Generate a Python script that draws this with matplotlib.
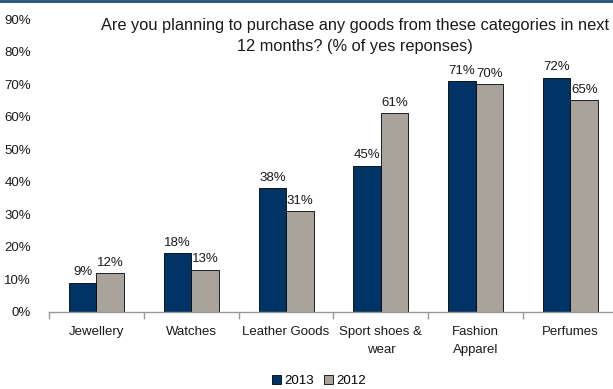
import numpy as np
import matplotlib.pyplot as plt
from matplotlib.lines import Line2D

plt.rcParams['font.family'] = ['Liberation Sans', 'DejaVu Sans']

categories = ['Jewellery', 'Watches', 'Leather Goods', 'Sport shoes &\nwear',
              'Fashion\nApparel', 'Perfumes']
yes_2013 = [9, 18, 38, 45, 71, 72]
yes_2012 = [12, 13, 31, 61, 70, 65]
yticks = [0, 10, 20, 30, 40, 50, 60, 70, 80, 90]

navy = '#003466'
grey = '#aaa39c'
txt = '#1a1a1a'

fig = plt.figure(figsize=(6.13, 3.89), dpi=100)
ax = fig.add_axes([0.08, 0.198, 0.928, 0.753])

x = np.arange(len(categories))
w = 0.29
b1 = ax.bar(x - w / 2, yes_2013, w, color=navy, edgecolor='black', linewidth=0.6, label='2013')
b2 = ax.bar(x + w / 2, yes_2012, w, color=grey, edgecolor='black', linewidth=0.6, label='2012')

for bars, vals in ((b1, yes_2013), (b2, yes_2012)):
    for r, v in zip(bars, vals):
        ax.text(r.get_x() + r.get_width() / 2, v + 1.3, f'{v}%', ha='center', va='bottom',
                fontsize=9.5, color=txt)

ax.set_xlim(-0.5, len(categories) - 0.5)
ax.set_ylim(0, 90)
ax.set_yticks(yticks)
ax.set_yticklabels([f'{t}%' for t in yticks], fontsize=9.5, color=txt)
ax.tick_params(axis='y', length=0, pad=13)

ax.set_xticks(x)
ax.set_xticklabels(categories, fontsize=9.5, color=txt, linespacing=1.65)
ax.tick_params(axis='x', length=0, pad=10)
# tick marks between categories
ax.set_xticks(np.arange(len(categories) + 1) - 0.5, minor=True)
ax.tick_params(axis='x', which='minor', length=5, color='#999999', width=1)

for s in ('top', 'right', 'left'):
    ax.spines[s].set_visible(False)
ax.spines['bottom'].set_color('#999999')
ax.spines['bottom'].set_linewidth(1)

ax.text(0.537, 1.005, 'Are you planning to purchase any goods from these categories in next\n12 months? (% of yes reponses)',
        transform=ax.transAxes, ha='center', va='top', fontsize=11.8, color=txt, linespacing=1.5)

fig.legend(handles=[b1, b2], labels=['2013', '2012'], loc='lower center',
           bbox_to_anchor=(0.52, -0.025), ncol=2, frameon=False, fontsize=9.5,
           handlelength=0.7, handleheight=0.7, handletextpad=0.2, columnspacing=0.8)

# blue rule along the top edge
fig.add_artist(Line2D([0, 1], [0.997, 0.997], transform=fig.transFigure, color='#1f4e79', linewidth=2))

fig.savefig('out.png', dpi=100)
